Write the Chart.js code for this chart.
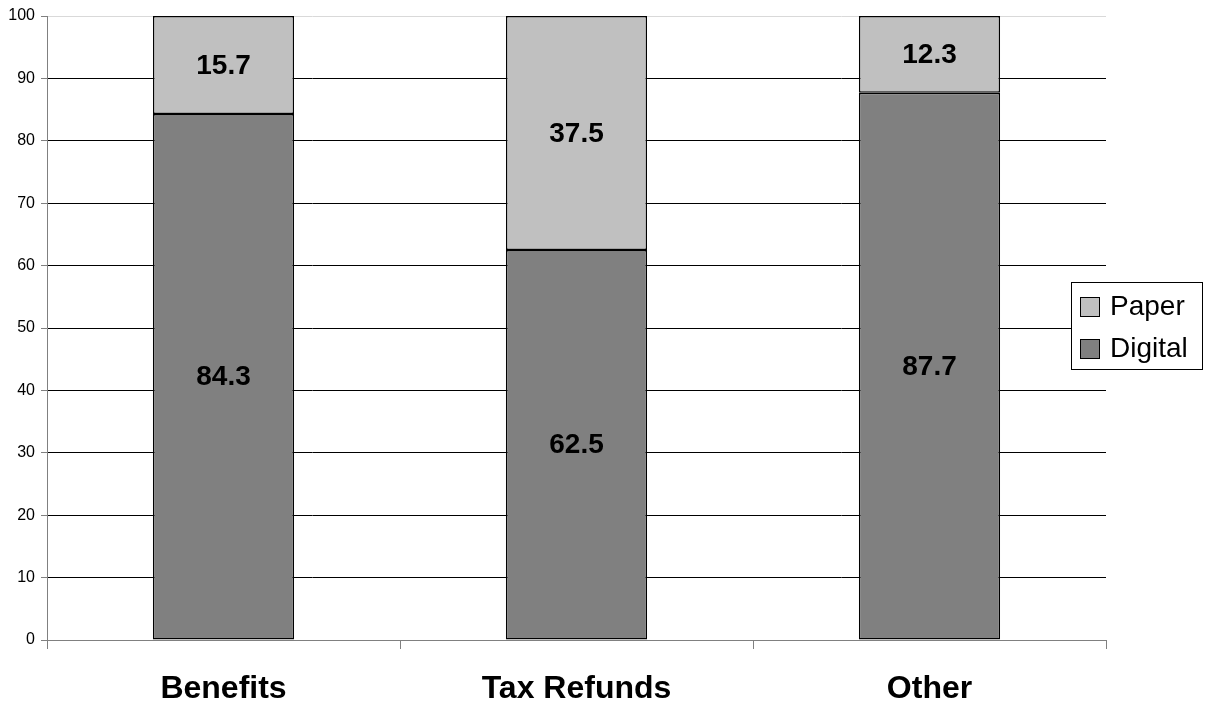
<!DOCTYPE html>
<html>
<head>
<meta charset="utf-8">
<script src="https://cdn.jsdelivr.net/npm/chart.js@4"></script>
<style>
  html, body { margin: 0; padding: 0; background: #fff; }
  #wrap { width: 1211px; height: 704px; }
</style>
</head>
<body>
<div id="wrap"><canvas id="payChart" width="1211" height="704"></canvas></div>
<script>
const categories = ["Benefits", "Tax Refunds", "Other"];
const digitalValues = [84.3, 62.5, 87.7];
const paperValues = [15.7, 37.5, 12.3];
const yTicks = [0, 10, 20, 30, 40, 50, 60, 70, 80, 90, 100];

const colors = {
  digital: "#808080",
  paper: "#c0c0c0",
  border: "#000000",
};

const fontFamily = "'Liberation Sans', Arial, sans-serif";

const barLabels = {
  id: "barLabels",
  afterDatasetsDraw(chart) {
    const ctx = chart.ctx;
    ctx.save();
    ctx.font = "bold 28px " + fontFamily;
    ctx.fillStyle = "#000";
    ctx.textAlign = "center";
    ctx.textBaseline = "middle";
    chart.data.datasets.forEach((ds, i) => {
      chart.getDatasetMeta(i).data.forEach((bar, j) => {
        ctx.fillText(ds.data[j].toFixed(1), bar.x, (bar.y + bar.base) / 2 + 1);
      });
    });
    ctx.restore();
  },
};

const boxLegend = {
  id: "boxLegend",
  afterDraw(chart) {
    const ctx = chart.ctx;
    const x = 1071, y = 282, w = 131, h = 87;
    ctx.save();
    ctx.fillStyle = "#fff";
    ctx.fillRect(x, y, w, h);
    ctx.strokeStyle = "#000";
    ctx.lineWidth = 1;
    ctx.strokeRect(x + 0.5, y + 0.5, w, h);
    ctx.font = "28px " + fontFamily;
    ctx.textBaseline = "alphabetic";
    const items = [
      { label: "Paper", color: colors.paper },
      { label: "Digital", color: colors.digital },
    ];
    items.forEach((it, i) => {
      const top = y + 15 + i * 42;
      ctx.fillStyle = it.color;
      ctx.fillRect(x + 9, top, 20, 20);
      ctx.strokeStyle = "#000";
      ctx.strokeRect(x + 9.5, top + 0.5, 19, 19);
      ctx.fillStyle = "#000";
      ctx.fillText(it.label, x + 39, top + 18);
    });
    ctx.restore();
  },
};

new Chart(document.getElementById("payChart"), {
  type: "bar",
  data: {
    labels: categories,
    datasets: [
      {
        label: "Digital",
        data: digitalValues,
        backgroundColor: colors.digital,
        borderColor: colors.border,
        borderWidth: 1.5,
        borderSkipped: false,
        barPercentage: 0.4,
        categoryPercentage: 1,
      },
      {
        label: "Paper",
        data: paperValues,
        backgroundColor: colors.paper,
        borderColor: colors.border,
        borderWidth: 1.5,
        borderSkipped: false,
        barPercentage: 0.4,
        categoryPercentage: 1,
      },
    ],
  },
  options: {
    responsive: false,
    animation: false,
    layout: {
      padding: { top: 16, right: 105, bottom: 0, left: 0 },
    },
    plugins: {
      legend: { display: false },
      tooltip: { enabled: false },
    },
    scales: {
      x: {
        stacked: true,
        afterFit: (scale) => { scale.height = 64; },
        grid: {
          offset: true,
          drawOnChartArea: false,
          color: "#808080",
          tickLength: 9,
        },
        border: { color: "#808080" },
        ticks: {
          color: "#000",
          padding: 21,
          font: { family: fontFamily, size: 32, weight: "bold" },
        },
      },
      y: {
        stacked: true,
        min: 0,
        max: 100,
        afterFit: (scale) => { scale.width = 47; },
        afterBuildTicks: (scale) => { scale.ticks = yTicks.map((v) => ({ value: v })); },
        grid: {
          color: (c) => (c.tick && c.tick.value === 100 ? "#d9d9d9" : "#000"),
          tickColor: "#808080",
          tickLength: 6,
        },
        border: { color: "#808080" },
        ticks: {
          color: "#000",
          padding: 6,
          font: { family: fontFamily, size: 16 },
        },
      },
    },
  },
  plugins: [barLabels, boxLegend],
});
</script>
</body>
</html>
